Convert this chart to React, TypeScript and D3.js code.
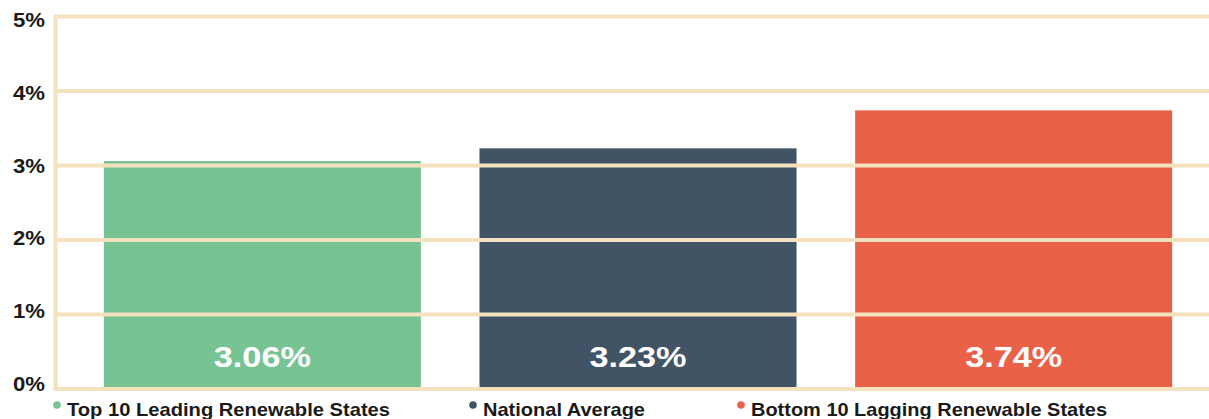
import React, { useRef, useEffect } from "react";
import * as d3 from "d3";

const categories = ["Top 10 Leading Renewable States", "National Average", "Bottom 10 Lagging Renewable States"];
const values = [3.06, 3.23, 3.74];
const barLabels = ["3.06%", "3.23%", "3.74%"];
const colors = ["#78c394", "#415465", "#e96147"];
const yTicks = [0, 1, 2, 3, 4, 5];
const yTickLabels = ["0%", "1%", "2%", "3%", "4%", "5%"];

const App = () => {
  const svgRef = useRef<SVGSVGElement>(null);

  useEffect(() => {
    const svg = d3.select(svgRef.current);
    svg.selectAll("*").remove();

    const width = 1209;
    const height = 419;
    const gridColor = "#f4e2bf";
    const font = "'Liberation Sans', Arial, sans-serif";

    const x = d3.scaleBand<string>().domain(categories).range([55, 1221]).paddingInner(0.156).paddingOuter(0.13);
    const y = d3.scaleLinear().domain([0, 5]).range([389, 16.5]);
    // labels sit on a slightly tighter spacing than the gridlines
    const yLabel = d3.scaleLinear().domain([0, 5]).range([391, 27]);

    svg.append("rect").attr("width", width).attr("height", height).attr("fill", "#ffffff");

    // bars
    svg
      .append("g")
      .selectAll("rect")
      .data(values)
      .join("rect")
      .attr("x", (d, i) => x(categories[i])!)
      .attr("y", (d) => y(d))
      .attr("width", x.bandwidth())
      .attr("height", (d) => y(0) - y(d))
      .attr("fill", (d, i) => colors[i]);

    // gridlines (drawn above bars)
    svg
      .append("g")
      .selectAll("line")
      .data(yTicks)
      .join("line")
      .attr("x1", 55)
      .attr("x2", width)
      .attr("y1", (d) => y(d))
      .attr("y2", (d) => y(d))
      .attr("stroke", gridColor)
      .attr("stroke-width", 4);

    // left axis line
    svg
      .append("line")
      .attr("x1", 55.5)
      .attr("x2", 55.5)
      .attr("y1", y(5) - 2)
      .attr("y2", y(0) + 2)
      .attr("stroke", gridColor)
      .attr("stroke-width", 4);

    // y tick labels
    svg
      .append("g")
      .selectAll("text")
      .data(yTicks)
      .join("text")
      .attr("x", 45)
      .attr("y", (d) => yLabel(d))
      .attr("text-anchor", "end")
      .attr("font-family", font)
      .attr("font-weight", "bold")
      .attr("font-size", 20)
      .attr("textLength", 32)
      .attr("lengthAdjust", "spacingAndGlyphs")
      .attr("fill", "#1a1a1a")
      .text((d, i) => yTickLabels[i]);

    // value labels inside bars
    svg
      .append("g")
      .selectAll("text")
      .data(values)
      .join("text")
      .attr("x", (d, i) => x(categories[i])! + x.bandwidth() / 2)
      .attr("y", 367)
      .attr("text-anchor", "middle")
      .attr("font-family", font)
      .attr("font-weight", "bold")
      .attr("font-size", 29)
      .attr("textLength", 97)
      .attr("lengthAdjust", "spacingAndGlyphs")
      .attr("fill", "#ffffff")
      .text((d, i) => barLabels[i]);

    // legend
    const legendX = [57, 473, 741];
    const legendW = [323, 162, 356];
    const legend = svg
      .append("g")
      .selectAll("g")
      .data(categories)
      .join("g")
      .attr("transform", (d, i) => `translate(${legendX[i]},0)`);

    legend
      .append("circle")
      .attr("cx", 0)
      .attr("cy", 405)
      .attr("r", 3.8)
      .attr("fill", (d, i) => colors[i]);

    legend
      .append("text")
      .attr("x", 10)
      .attr("y", 416)
      .attr("font-family", font)
      .attr("font-weight", "bold")
      .attr("font-size", 19)
      .attr("textLength", (d, i) => legendW[i])
      .attr("lengthAdjust", "spacingAndGlyphs")
      .attr("fill", "#1a1a1a")
      .text((d) => d);
  }, []);

  return (
    <svg
      ref={svgRef}
      width={1209}
      height={419}
      style={{ position: "absolute", left: 0, top: 0, display: "block" }}
    ></svg>
  );
};

export default App;
